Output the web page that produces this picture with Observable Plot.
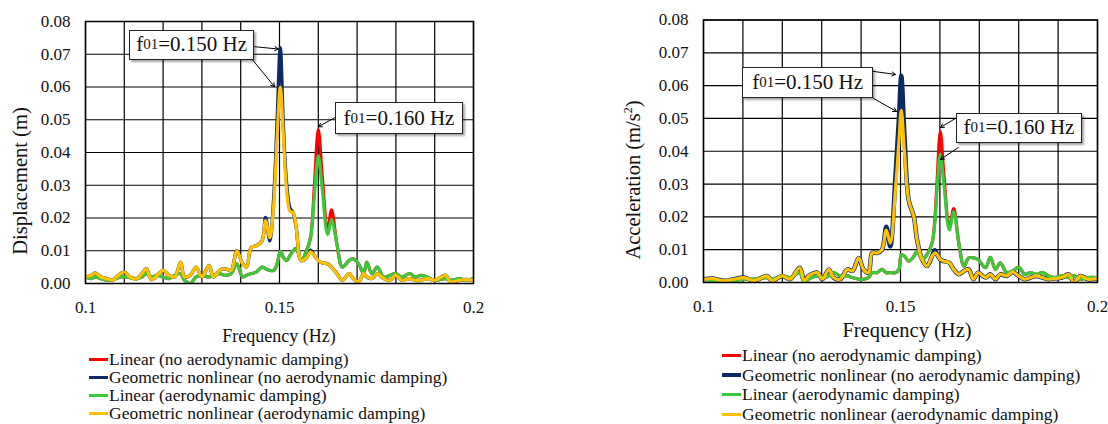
<!DOCTYPE html>
<html><head><meta charset="utf-8">
<script src="https://cdn.jsdelivr.net/npm/d3@7"></script>
<script src="https://cdn.jsdelivr.net/npm/@observablehq/plot@0.6"></script>
<style>
body{margin:0;background:#fff;font-family:"Liberation Serif","Times New Roman",serif;color:#111}
#root{position:relative;width:1108px;height:424px;overflow:hidden;background:#fff}
.abs{position:absolute;white-space:nowrap;line-height:1}
.rot{transform:translate(-50%,-50%) rotate(-90deg)}
.ctr{transform:translate(-50%,-50%)}
.box{position:absolute;background:#fff;border:1px solid #222;box-shadow:2px 2px 2px rgba(0,0,0,0.35);font-size:21px;white-space:nowrap;line-height:1;display:flex;align-items:center;justify-content:center;box-sizing:border-box;color:#111}
.box .s{font-size:15px}
.leg{position:absolute;font-size:17.5px;white-space:nowrap}
.leg .row{display:flex;align-items:center}
.leg .mk{display:inline-block;margin-right:1px}
</style></head>
<body><div id="root"></div>
<script>
// ---------- shared ----------
const seriesNames = [
  "Linear (no aerodynamic damping)",
  "Geometric nonlinear (no aerodynamic damping)",
  "Linear (aerodynamic damping)",
  "Geometric nonlinear (aerodynamic damping)"
];
const seriesColors = ["#ff0000", "#0d2a66", "#3cc83c", "#ffc000"];
const xTicks = [0.1, 0.15, 0.2];
const gridFreqs = [0.10, 0.11, 0.12, 0.13, 0.14, 0.15, 0.16, 0.17, 0.18, 0.19, 0.20];
const yTicks = [0, 0.01, 0.02, 0.03, 0.04, 0.05, 0.06, 0.07, 0.08];

// ---------- displacement panel ----------
const dispFreq = [
  0.1000,0.1015,0.1025,0.1040,0.1055,0.1070,0.1080,0.1090,0.1100,0.1115,
  0.1130,0.1145,0.1157,0.1170,0.1185,0.1200,0.1215,0.1230,0.1245,0.1255,
  0.1270,0.1285,0.1300,0.1318,0.1330,0.1345,0.1360,0.1375,0.1390,0.1405,
  0.1415,0.1427,0.1440,0.1455,0.1464,0.1475,0.1485,0.1494,0.1502,0.1510,
  0.1518,0.1527,0.1535,0.1543,0.1556,0.1569,0.1580,0.1590,0.1600,0.1610,
  0.1624,0.1634,0.1648,0.1662,0.1679,0.1690,0.1704,0.1717,0.1725,0.1738,
  0.1752,0.1768,0.1785,0.1799,0.1815,0.1835,0.1850,0.1865,0.1880,0.1900,
  0.1928,0.1940,0.1965,0.1980,0.2000];
const dispLinNoAero = [
  .002,.0015,.002,.0015,.001,.0012,.0015,.002,.002,.0018,
  .0015,.002,.003,.002,.0025,.002,.0015,.0025,.003,.001,
  .0,.002,.0025,.002,.0025,.003,.0025,.003,.006,.002,
  .0025,.003,.0035,.005,.0045,.004,.004,.006,.0098,.008,
  .007,.0085,.010,.0107,.007,.0098,.014,.030,.047,.033,
  .016,.0225,.012,.005,.007,.0075,.006,.003,.0065,.003,
  .005,.002,.0025,.003,.002,.003,.002,.0025,.002,.001,
  .0015,.001,.0015,.001,.0015];
const dispNlNoAero = [
  .002,.0025,.0032,.002,.0015,.001,.002,.003,.0035,.002,
  .0013,.003,.0045,.0012,.0025,.004,.0025,.002,.0065,.002,
  .0025,.005,.002,.0055,.002,.004,.0045,.004,.010,.006,
  .005,.011,.0115,.013,.0202,.013,.026,.050,.072,.048,
  .031,.023,.0217,.017,.007,.0077,.0102,.0085,.007,.0063,
  .006,.005,.003,.001,.003,.0015,.0005,.003,.002,.0015,
  .003,.0015,.001,.0025,.001,.0015,.001,.001,.0015,.001,
  .0025,.0005,.001,.0012,.001];
const dispLinAero = [
  .002,.0015,.002,.0015,.001,.0012,.0015,.002,.002,.0018,
  .0015,.002,.003,.002,.0025,.002,.0015,.0025,.003,.001,
  .0,.002,.0025,.002,.0025,.003,.0025,.003,.006,.002,
  .0025,.003,.0035,.005,.0045,.004,.004,.006,.0098,.008,
  .007,.0085,.010,.0107,.007,.0098,.014,.027,.039,.029,
  .015,.0195,.012,.005,.007,.0075,.006,.003,.0065,.003,
  .005,.002,.0025,.003,.002,.003,.002,.0025,.002,.001,
  .0015,.001,.0015,.001,.0015];
const dispNlAero = [
  .002,.0025,.0032,.002,.0015,.001,.002,.003,.0035,.002,
  .0013,.003,.0045,.0012,.0025,.004,.0025,.002,.0065,.002,
  .0025,.005,.002,.0055,.002,.004,.0045,.004,.010,.006,
  .005,.011,.0115,.013,.0192,.014,.024,.045,.0599,.045,
  .029,.022,.0217,.017,.007,.0077,.0097,.0085,.007,.0063,
  .006,.005,.003,.001,.003,.0015,.0005,.003,.002,.0015,
  .003,.0015,.001,.0025,.001,.0015,.001,.001,.0015,.001,
  .0025,.0005,.001,.0012,.001];
const dispBoxes = [
  {label: "0.150", x1: 0.11134, x2: 0.1436, y1: 0.0774, y2: 0.0680},
  {label: "0.160", x1: 0.16443, x2: 0.19742, y1: 0.0552, y2: 0.0454}];
const dispArrows = [
  {x1: 0.1436, y1: 0.0723, x2: 0.1497, y2: 0.0716},
  {x1: 0.14304, y1: 0.0683, x2: 0.14871, y2: 0.0601},
  {x1: 0.16418, y1: 0.0506, x2: 0.16005, y2: 0.04787}];

// ---------- acceleration panel ----------
const accFreq = [
  0.1000,0.1025,0.1051,0.1077,0.1102,0.1127,0.1140,0.1161,0.1174,0.1200,
  0.1220,0.1244,0.1256,0.1267,0.1289,0.1302,0.1318,0.1330,0.1347,0.1365,
  0.1378,0.1394,0.1406,0.1419,0.1428,0.1441,0.1453,0.1464,0.1474,0.1487,
  0.1496,0.1502,0.1510,0.1521,0.1534,0.1542,0.1555,0.1567,0.1580,0.1587,
  0.1593,0.1601,0.1610,0.1624,0.1635,0.1648,0.1661,0.1673,0.1685,0.1697,
  0.1716,0.1728,0.1741,0.1753,0.1770,0.1785,0.1800,0.1815,0.1830,0.1845,
  0.1860,0.1875,0.1890,0.1910,0.1927,0.1940,0.1957,0.1975,0.2000];
const accLinNoAero = [
  .001,.0005,.0005,.0005,.001,.001,.0012,.0015,.001,.002,
  .0015,.003,.0,.001,.002,.0015,.002,.003,.002,.002,
  .0015,.001,.001,.0015,.003,.003,.004,.003,.003,.003,
  .004,.0085,.008,.0065,.008,.0095,.007,.0085,.012,.019,
  .031,.046,.033,.017,.0225,.012,.005,.0075,.0075,.007,
  .0045,.0077,.004,.006,.003,.0035,.0047,.0025,.003,.0025,
  .003,.002,.0015,.002,.0015,.002,.001,.0015,.0015];
const accNlNoAero = [
  .001,.0012,.0005,.001,.0015,.0005,.001,.002,.0005,.002,
  .001,.0045,.0005,.002,.003,.001,.004,.0015,.001,.004,
  .0035,.0075,.004,.003,.009,.009,.010,.017,.011,.032,
  .050,.063,.045,.025,.020,.013,.007,.005,.008,.0098,
  .0085,.007,.0065,.006,.004,.0025,.0035,.004,.001,.003,
  .0015,.0025,.001,.0025,.002,.0032,.002,.001,.0015,.002,
  .0015,.001,.0012,.0015,.0025,.0,.002,.001,.0012];
const accLinAero = [
  .001,.0005,.0005,.0005,.001,.001,.0012,.0015,.001,.002,
  .0015,.003,.0,.001,.002,.0015,.002,.003,.002,.002,
  .0015,.001,.001,.0015,.003,.003,.004,.003,.003,.003,
  .004,.0085,.008,.0065,.008,.0095,.007,.0085,.012,.018,
  .029,.039,.030,.016,.0215,.012,.005,.0075,.0075,.007,
  .0045,.0077,.004,.006,.003,.0035,.0047,.0025,.003,.0025,
  .003,.002,.0015,.002,.0015,.002,.001,.0015,.0015];
const accNlAero = [
  .001,.0012,.0005,.001,.0015,.0005,.001,.002,.0005,.002,
  .001,.0045,.0005,.002,.003,.001,.004,.0015,.001,.004,
  .0035,.0075,.004,.003,.009,.009,.010,.016,.012,.028,
  .043,.0525,.040,.025,.020,.013,.007,.005,.008,.009,
  .0085,.007,.0065,.006,.004,.0025,.0035,.004,.001,.003,
  .0015,.0025,.001,.0025,.002,.0032,.002,.001,.0015,.002,
  .0015,.001,.0012,.0015,.0025,.0,.002,.001,.0012];
const accBoxes = [
  {label: "0.150", x1: 0.1099, x2: 0.1432, y1: 0.0655, y2: 0.0561},
  {label: "0.160", x1: 0.16421, x2: 0.19619, y1: 0.05152, y2: 0.04238}];
const accArrows = [
  {x1: 0.14315, y1: 0.06433, x2: 0.14873, y2: 0.06341},
  {x1: 0.14315, y1: 0.0561, x2: 0.14898, y2: 0.05213},
  {x1: 0.16396, y1: 0.05, x2: 0.16015, y2: 0.04726},
  {x1: 0.16472, y1: 0.04116, x2: 0.16015, y2: 0.0375}];

// ---------- drawing ----------
const root = document.getElementById("root");

function el(html, cls, css) {
  const d = document.createElement("div");
  d.className = cls;
  d.innerHTML = html;
  Object.assign(d.style, css);
  root.appendChild(d);
  return d;
}

function panel(cfg) {
  const marks = [
    Plot.gridX(gridFreqs, {stroke: "#000", strokeOpacity: 1, strokeWidth: 1.2}),
    Plot.gridY(yTicks, {stroke: "#000", strokeOpacity: 1, strokeWidth: 1.2})
  ];
  cfg.series.forEach((vals, i) => {
    const rows = cfg.freq.map((f, j) => ({f, v: vals[j]}));
    marks.push(Plot.line(rows, {x: "f", y: "v", stroke: seriesColors[i], strokeWidth: cfg.widths[i], curve: "catmull-rom", clip: true}));
  });
  marks.push(Plot.frame({stroke: "#000", strokeWidth: 1.5}));
  marks.push(Plot.arrow(cfg.arrows, {x1: "x1", y1: "y1", x2: "x2", y2: "y2", stroke: "#000", strokeWidth: 1, headLength: 6}));

  const plot = Plot.plot({
    width: cfg.w, height: cfg.h,
    marginLeft: cfg.ml, marginRight: cfg.mr, marginTop: cfg.mt, marginBottom: cfg.mb,
    style: {fontFamily: '"Liberation Serif","Times New Roman",serif', fontSize: "17px", color: "#111", background: "transparent", overflow: "visible"},
    x: {domain: [0.1, 0.2], ticks: xTicks, tickFormat: d => String(d), tickSize: 0, tickPadding: 17, label: null},
    y: {domain: [0, 0.08], ticks: yTicks, tickFormat: d3.format(".2f"), tickSize: 0, tickPadding: 15, label: null},
    marks
  });
  plot.style.position = "absolute";
  plot.style.left = cfg.left + "px";
  plot.style.top = "0px";
  root.appendChild(plot);

  const sx = plot.scale("x"), sy = plot.scale("y");
  const X = d3.scaleLinear(sx.domain, sx.range);
  const Y = d3.scaleLinear(sy.domain, sy.range);
  cfg.boxes.forEach(b => {
    const left = cfg.left + X(b.x1), top = Y(b.y1);
    el(`f<span class="s">01</span>=${b.label} Hz`, "box", {
      left: left + "px", top: top + "px",
      width: (X(b.x2) - X(b.x1)) + "px", height: (Y(b.y2) - Y(b.y1)) + "px"
    });
  });

  el(cfg.yLabel, "abs rot", {left: cfg.yLabelPos[0] + "px", top: cfg.yLabelPos[1] + "px", fontSize: cfg.yLabelSize});
  el("Frequency (Hz)", "abs ctr", {left: cfg.xLabelPos[0] + "px", top: cfg.xLabelPos[1] + "px", fontSize: cfg.xLabelSize});

  const leg = el("", "leg", {left: cfg.legPos[0] + "px", top: cfg.legPos[1] + "px"});
  seriesNames.forEach((n, i) => {
    const r = document.createElement("div");
    r.className = "row";
    r.style.height = cfg.legLine + "px";
    r.innerHTML = `<span class="mk" style="width:${cfg.legMk}px;height:${cfg.legMkH[i]}px;background:${seriesColors[i]}"></span><span>${n}</span>`;
    leg.appendChild(r);
  });
}

panel({
  left: 0, w: 490, h: 320, ml: 85, mr: 17, mt: 21, mb: 37,
  freq: dispFreq,
  series: [dispLinNoAero, dispNlNoAero, dispLinAero, dispNlAero],
  widths: [3.2, 3.4, 3.2, 3.2],
  boxes: dispBoxes, arrows: dispArrows,
  yLabel: "Displacement (m)", yLabelPos: [20, 181], yLabelSize: "20.5px",
  xLabelPos: [279, 336], xLabelSize: "18px",
  legPos: [89, 351], legLine: 17.8, legMk: 19, legMkH: [3, 3, 3, 3]
});

panel({
  left: 600, w: 508, h: 320, ml: 103, mr: 11, mt: 19.5, mb: 38,
  freq: accFreq,
  series: [accLinNoAero, accNlNoAero, accLinAero, accNlAero],
  widths: [3.2, 4.5, 3.2, 3.2],
  boxes: accBoxes, arrows: accArrows,
  yLabel: "Acceleration (m/s<sup style=\"font-size:12px\">2</sup>)", yLabelPos: [633, 180], yLabelSize: "20.5px",
  xLabelPos: [907, 330], xLabelSize: "20.5px",
  legPos: [722, 346], legLine: 19.5, legMk: 19, legMkH: [3, 4, 3, 3]
});
</script>
</body></html>
